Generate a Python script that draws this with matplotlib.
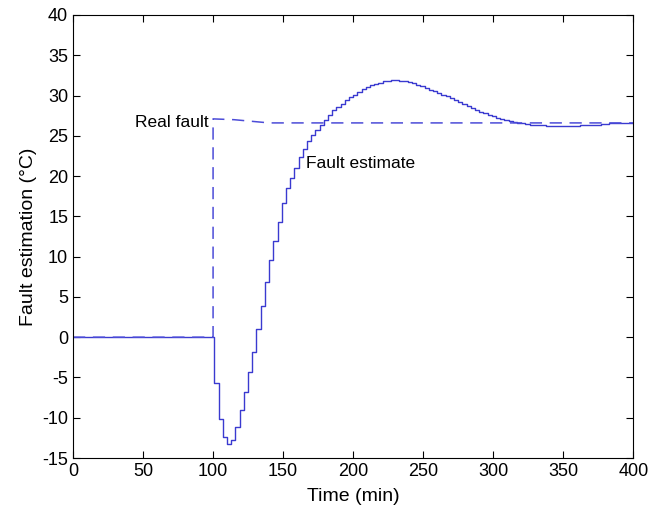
import numpy as np
import matplotlib
matplotlib.use('Agg')
import matplotlib.pyplot as plt

plt.rcParams['font.family'] = ['Liberation Sans', 'DejaVu Sans']
plt.rcParams['axes.unicode_minus'] = False

# Fault estimate: staircase samples every 3 min starting at t = 101
t_inicio = 101
periodo = 3
estimativa = [
    -5.7, -10.1, -12.4, -13.2, -12.8, -11.2, -9.0, -6.8, -4.3, -1.8,
    1.0, 3.9, 6.9, 9.6, 12.0, 14.3, 16.6, 18.5, 19.8, 21.0,
    22.4, 23.4, 24.3, 25.1, 25.7, 26.3, 26.9, 27.6, 28.2, 28.6,
    29.0, 29.4, 29.8, 30.1, 30.45, 30.75, 31.0, 31.25, 31.45, 31.6,
    31.75, 31.85, 31.9, 31.9, 31.85, 31.8, 31.7, 31.55, 31.35, 31.15,
    30.9, 30.7, 30.5, 30.3, 30.1, 29.9, 29.7, 29.45, 29.2, 28.9,
    28.7, 28.5, 28.25, 28.0, 27.8, 27.6, 27.4, 27.2, 27.05, 26.95,
    26.85, 26.75, 26.65, 26.55, 26.45, 26.4, 26.35, 26.3, 26.3, 26.25,
    26.25, 26.25, 26.25, 26.25, 26.25, 26.25, 26.25, 26.3, 26.3, 26.3,
    26.3, 26.35, 26.45, 26.5, 26.55, 26.55, 26.6, 26.6, 26.6, 26.6,
]

# Real fault (dashed)
t_real = [0, 100, 100, 115, 140, 400]
falha_real = [0, 0, 27.1, 27.0, 26.6, 26.6]

t_amostras = t_inicio + periodo * np.arange(len(estimativa))
t_est = np.concatenate([[0], t_amostras, [400]])
v_est = np.concatenate([[0], estimativa, [estimativa[-1]]])

fig = plt.figure(figsize=(6.5, 5.11), dpi=100)
ax = fig.add_axes([0.1123, 0.1037, 0.862, 0.867])

ax.step(t_est, v_est, where='post', color='#3a3ad0', lw=1.0)
ax.plot(t_real, falha_real, color='#4c4cd8', lw=1.1, dashes=(8, 5))

ax.set_xlim(0, 400)
ax.set_ylim(-15, 40)
ax.set_xticks(np.arange(0, 401, 50))
ax.set_yticks(np.arange(-15, 41, 5))
ax.tick_params(direction='in', length=5, top=True, right=True, labelsize=13, width=0.8)
for s in ax.spines.values():
    s.set_linewidth(0.8)

ax.set_xlabel('Time (min)', fontsize=14, labelpad=6)
ax.set_ylabel('Fault estimation (°C)', fontsize=14)

ax.text(96.5, 26.6, 'Real fault', fontsize=12.5, ha='right', va='center')
ax.text(166, 21.6, 'Fault estimate', fontsize=12.5, ha='left', va='center')

fig.savefig('out.png', dpi=100)
